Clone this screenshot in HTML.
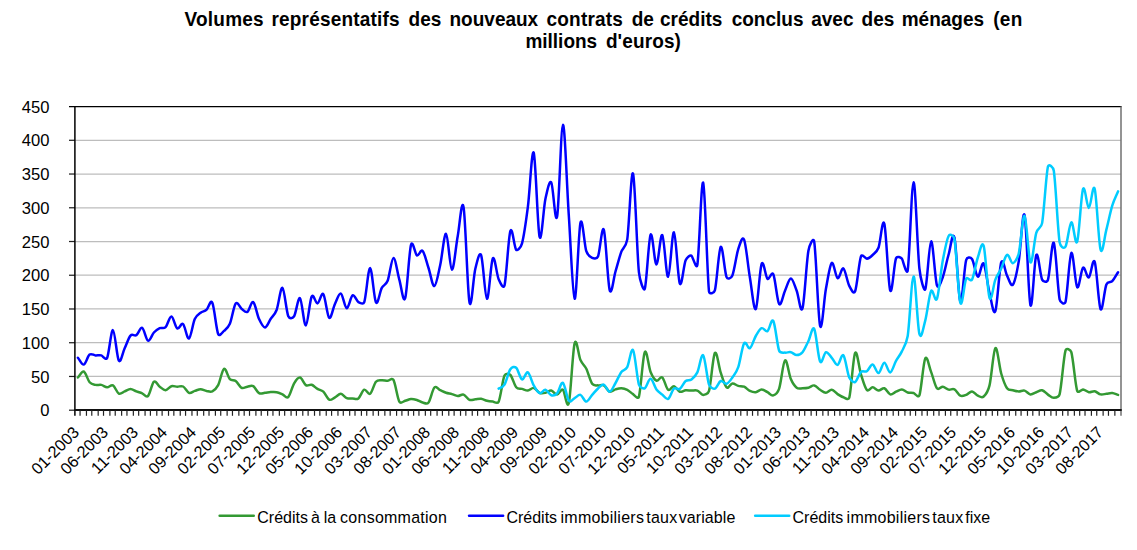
<!DOCTYPE html>
<html><head><meta charset="utf-8"><title>chart</title><style>
html,body{margin:0;padding:0;background:#fff}
body{width:1137px;height:550px;position:relative;overflow:hidden;font-family:"Liberation Sans",sans-serif;color:#000}
.t{position:absolute;white-space:nowrap}
.title{font-weight:bold;font-size:19px;line-height:23px;transform-origin:0 18.1px;transform:scaleY(1.06)}
.yl{font-size:16.6px;line-height:16px;text-align:right;width:40px}
.xl{font-size:16.3px;line-height:16px;transform-origin:100% 50%;transform:rotate(-45deg);text-align:right;width:80px}
.lg{font-size:16px;line-height:16px;transform-origin:0 13.5px;transform:scaleY(1.045)}

</style></head><body>
<svg width="1137" height="550" viewBox="0 0 1137 550" style="position:absolute;left:0;top:0">
<line x1="75.00" y1="376.46" x2="1121.00" y2="376.46" stroke="#bdbdbd" stroke-width="1.25"/>
<line x1="75.00" y1="342.72" x2="1121.00" y2="342.72" stroke="#bdbdbd" stroke-width="1.25"/>
<line x1="75.00" y1="308.98" x2="1121.00" y2="308.98" stroke="#bdbdbd" stroke-width="1.25"/>
<line x1="75.00" y1="275.24" x2="1121.00" y2="275.24" stroke="#bdbdbd" stroke-width="1.25"/>
<line x1="75.00" y1="241.51" x2="1121.00" y2="241.51" stroke="#bdbdbd" stroke-width="1.25"/>
<line x1="75.00" y1="207.77" x2="1121.00" y2="207.77" stroke="#bdbdbd" stroke-width="1.25"/>
<line x1="75.00" y1="174.03" x2="1121.00" y2="174.03" stroke="#bdbdbd" stroke-width="1.25"/>
<line x1="75.00" y1="140.29" x2="1121.00" y2="140.29" stroke="#bdbdbd" stroke-width="1.25"/>
<line x1="69.00" y1="106.55" x2="1121.60" y2="106.55" stroke="#000" stroke-width="1.25"/>
<line x1="1121.00" y1="106.55" x2="1121.00" y2="415.80" stroke="#707070" stroke-width="1.5"/>
<line x1="69.00" y1="410.20" x2="75.00" y2="410.20" stroke="#222" stroke-width="1.25"/>
<line x1="69.00" y1="376.46" x2="75.00" y2="376.46" stroke="#222" stroke-width="1.25"/>
<line x1="69.00" y1="342.72" x2="75.00" y2="342.72" stroke="#222" stroke-width="1.25"/>
<line x1="69.00" y1="308.98" x2="75.00" y2="308.98" stroke="#222" stroke-width="1.25"/>
<line x1="69.00" y1="275.24" x2="75.00" y2="275.24" stroke="#222" stroke-width="1.25"/>
<line x1="69.00" y1="241.51" x2="75.00" y2="241.51" stroke="#222" stroke-width="1.25"/>
<line x1="69.00" y1="207.77" x2="75.00" y2="207.77" stroke="#222" stroke-width="1.25"/>
<line x1="69.00" y1="174.03" x2="75.00" y2="174.03" stroke="#222" stroke-width="1.25"/>
<line x1="69.00" y1="140.29" x2="75.00" y2="140.29" stroke="#222" stroke-width="1.25"/>
<line x1="74.90" y1="106.55" x2="74.90" y2="415.80" stroke="#000" stroke-width="1.5"/>
<line x1="74.20" y1="409.90" x2="1121.70" y2="409.90" stroke="#111" stroke-width="2"/>
<line x1="80.06" y1="410.20" x2="80.06" y2="415.80" stroke="#222" stroke-width="1.2"/>
<line x1="86.45" y1="410.20" x2="86.45" y2="415.80" stroke="#222" stroke-width="1.2"/>
<line x1="91.78" y1="410.20" x2="91.78" y2="415.80" stroke="#222" stroke-width="1.2"/>
<line x1="98.18" y1="410.20" x2="98.18" y2="415.80" stroke="#222" stroke-width="1.2"/>
<line x1="103.51" y1="410.20" x2="103.51" y2="415.80" stroke="#222" stroke-width="1.2"/>
<line x1="109.90" y1="410.20" x2="109.90" y2="415.80" stroke="#222" stroke-width="1.2"/>
<line x1="115.23" y1="410.20" x2="115.23" y2="415.80" stroke="#222" stroke-width="1.2"/>
<line x1="121.62" y1="410.20" x2="121.62" y2="415.80" stroke="#222" stroke-width="1.2"/>
<line x1="126.95" y1="410.20" x2="126.95" y2="415.80" stroke="#222" stroke-width="1.2"/>
<line x1="133.35" y1="410.20" x2="133.35" y2="415.80" stroke="#222" stroke-width="1.2"/>
<line x1="138.67" y1="410.20" x2="138.67" y2="415.80" stroke="#222" stroke-width="1.2"/>
<line x1="145.07" y1="410.20" x2="145.07" y2="415.80" stroke="#222" stroke-width="1.2"/>
<line x1="150.40" y1="410.20" x2="150.40" y2="415.80" stroke="#222" stroke-width="1.2"/>
<line x1="156.79" y1="410.20" x2="156.79" y2="415.80" stroke="#222" stroke-width="1.2"/>
<line x1="162.12" y1="410.20" x2="162.12" y2="415.80" stroke="#222" stroke-width="1.2"/>
<line x1="168.51" y1="410.20" x2="168.51" y2="415.80" stroke="#222" stroke-width="1.2"/>
<line x1="173.84" y1="410.20" x2="173.84" y2="415.80" stroke="#222" stroke-width="1.2"/>
<line x1="180.24" y1="410.20" x2="180.24" y2="415.80" stroke="#222" stroke-width="1.2"/>
<line x1="185.56" y1="410.20" x2="185.56" y2="415.80" stroke="#222" stroke-width="1.2"/>
<line x1="191.96" y1="410.20" x2="191.96" y2="415.80" stroke="#222" stroke-width="1.2"/>
<line x1="197.29" y1="410.20" x2="197.29" y2="415.80" stroke="#222" stroke-width="1.2"/>
<line x1="203.68" y1="410.20" x2="203.68" y2="415.80" stroke="#222" stroke-width="1.2"/>
<line x1="209.01" y1="410.20" x2="209.01" y2="415.80" stroke="#222" stroke-width="1.2"/>
<line x1="215.40" y1="410.20" x2="215.40" y2="415.80" stroke="#222" stroke-width="1.2"/>
<line x1="220.73" y1="410.20" x2="220.73" y2="415.80" stroke="#222" stroke-width="1.2"/>
<line x1="227.13" y1="410.20" x2="227.13" y2="415.80" stroke="#222" stroke-width="1.2"/>
<line x1="232.46" y1="410.20" x2="232.46" y2="415.80" stroke="#222" stroke-width="1.2"/>
<line x1="238.85" y1="410.20" x2="238.85" y2="415.80" stroke="#222" stroke-width="1.2"/>
<line x1="244.18" y1="410.20" x2="244.18" y2="415.80" stroke="#222" stroke-width="1.2"/>
<line x1="249.51" y1="410.20" x2="249.51" y2="415.80" stroke="#222" stroke-width="1.2"/>
<line x1="255.90" y1="410.20" x2="255.90" y2="415.80" stroke="#222" stroke-width="1.2"/>
<line x1="261.23" y1="410.20" x2="261.23" y2="415.80" stroke="#222" stroke-width="1.2"/>
<line x1="267.62" y1="410.20" x2="267.62" y2="415.80" stroke="#222" stroke-width="1.2"/>
<line x1="272.95" y1="410.20" x2="272.95" y2="415.80" stroke="#222" stroke-width="1.2"/>
<line x1="279.35" y1="410.20" x2="279.35" y2="415.80" stroke="#222" stroke-width="1.2"/>
<line x1="284.67" y1="410.20" x2="284.67" y2="415.80" stroke="#222" stroke-width="1.2"/>
<line x1="291.07" y1="410.20" x2="291.07" y2="415.80" stroke="#222" stroke-width="1.2"/>
<line x1="296.40" y1="410.20" x2="296.40" y2="415.80" stroke="#222" stroke-width="1.2"/>
<line x1="302.79" y1="410.20" x2="302.79" y2="415.80" stroke="#222" stroke-width="1.2"/>
<line x1="308.12" y1="410.20" x2="308.12" y2="415.80" stroke="#222" stroke-width="1.2"/>
<line x1="314.51" y1="410.20" x2="314.51" y2="415.80" stroke="#222" stroke-width="1.2"/>
<line x1="319.84" y1="410.20" x2="319.84" y2="415.80" stroke="#222" stroke-width="1.2"/>
<line x1="326.24" y1="410.20" x2="326.24" y2="415.80" stroke="#222" stroke-width="1.2"/>
<line x1="331.57" y1="410.20" x2="331.57" y2="415.80" stroke="#222" stroke-width="1.2"/>
<line x1="337.96" y1="410.20" x2="337.96" y2="415.80" stroke="#222" stroke-width="1.2"/>
<line x1="343.29" y1="410.20" x2="343.29" y2="415.80" stroke="#222" stroke-width="1.2"/>
<line x1="349.68" y1="410.20" x2="349.68" y2="415.80" stroke="#222" stroke-width="1.2"/>
<line x1="355.01" y1="410.20" x2="355.01" y2="415.80" stroke="#222" stroke-width="1.2"/>
<line x1="361.41" y1="410.20" x2="361.41" y2="415.80" stroke="#222" stroke-width="1.2"/>
<line x1="366.73" y1="410.20" x2="366.73" y2="415.80" stroke="#222" stroke-width="1.2"/>
<line x1="373.13" y1="410.20" x2="373.13" y2="415.80" stroke="#222" stroke-width="1.2"/>
<line x1="378.46" y1="410.20" x2="378.46" y2="415.80" stroke="#222" stroke-width="1.2"/>
<line x1="384.85" y1="410.20" x2="384.85" y2="415.80" stroke="#222" stroke-width="1.2"/>
<line x1="390.18" y1="410.20" x2="390.18" y2="415.80" stroke="#222" stroke-width="1.2"/>
<line x1="396.57" y1="410.20" x2="396.57" y2="415.80" stroke="#222" stroke-width="1.2"/>
<line x1="401.90" y1="410.20" x2="401.90" y2="415.80" stroke="#222" stroke-width="1.2"/>
<line x1="408.30" y1="410.20" x2="408.30" y2="415.80" stroke="#222" stroke-width="1.2"/>
<line x1="413.62" y1="410.20" x2="413.62" y2="415.80" stroke="#222" stroke-width="1.2"/>
<line x1="418.95" y1="410.20" x2="418.95" y2="415.80" stroke="#222" stroke-width="1.2"/>
<line x1="425.35" y1="410.20" x2="425.35" y2="415.80" stroke="#222" stroke-width="1.2"/>
<line x1="430.68" y1="410.20" x2="430.68" y2="415.80" stroke="#222" stroke-width="1.2"/>
<line x1="437.07" y1="410.20" x2="437.07" y2="415.80" stroke="#222" stroke-width="1.2"/>
<line x1="442.40" y1="410.20" x2="442.40" y2="415.80" stroke="#222" stroke-width="1.2"/>
<line x1="448.79" y1="410.20" x2="448.79" y2="415.80" stroke="#222" stroke-width="1.2"/>
<line x1="454.12" y1="410.20" x2="454.12" y2="415.80" stroke="#222" stroke-width="1.2"/>
<line x1="460.52" y1="410.20" x2="460.52" y2="415.80" stroke="#222" stroke-width="1.2"/>
<line x1="465.84" y1="410.20" x2="465.84" y2="415.80" stroke="#222" stroke-width="1.2"/>
<line x1="472.24" y1="410.20" x2="472.24" y2="415.80" stroke="#222" stroke-width="1.2"/>
<line x1="477.57" y1="410.20" x2="477.57" y2="415.80" stroke="#222" stroke-width="1.2"/>
<line x1="483.96" y1="410.20" x2="483.96" y2="415.80" stroke="#222" stroke-width="1.2"/>
<line x1="489.29" y1="410.20" x2="489.29" y2="415.80" stroke="#222" stroke-width="1.2"/>
<line x1="495.68" y1="410.20" x2="495.68" y2="415.80" stroke="#222" stroke-width="1.2"/>
<line x1="501.01" y1="410.20" x2="501.01" y2="415.80" stroke="#222" stroke-width="1.2"/>
<line x1="507.41" y1="410.20" x2="507.41" y2="415.80" stroke="#222" stroke-width="1.2"/>
<line x1="512.73" y1="410.20" x2="512.73" y2="415.80" stroke="#222" stroke-width="1.2"/>
<line x1="519.13" y1="410.20" x2="519.13" y2="415.80" stroke="#222" stroke-width="1.2"/>
<line x1="524.46" y1="410.20" x2="524.46" y2="415.80" stroke="#222" stroke-width="1.2"/>
<line x1="530.85" y1="410.20" x2="530.85" y2="415.80" stroke="#222" stroke-width="1.2"/>
<line x1="536.18" y1="410.20" x2="536.18" y2="415.80" stroke="#222" stroke-width="1.2"/>
<line x1="542.57" y1="410.20" x2="542.57" y2="415.80" stroke="#222" stroke-width="1.2"/>
<line x1="547.90" y1="410.20" x2="547.90" y2="415.80" stroke="#222" stroke-width="1.2"/>
<line x1="554.30" y1="410.20" x2="554.30" y2="415.80" stroke="#222" stroke-width="1.2"/>
<line x1="559.63" y1="410.20" x2="559.63" y2="415.80" stroke="#222" stroke-width="1.2"/>
<line x1="566.02" y1="410.20" x2="566.02" y2="415.80" stroke="#222" stroke-width="1.2"/>
<line x1="571.35" y1="410.20" x2="571.35" y2="415.80" stroke="#222" stroke-width="1.2"/>
<line x1="577.74" y1="410.20" x2="577.74" y2="415.80" stroke="#222" stroke-width="1.2"/>
<line x1="583.07" y1="410.20" x2="583.07" y2="415.80" stroke="#222" stroke-width="1.2"/>
<line x1="588.40" y1="410.20" x2="588.40" y2="415.80" stroke="#222" stroke-width="1.2"/>
<line x1="594.79" y1="410.20" x2="594.79" y2="415.80" stroke="#222" stroke-width="1.2"/>
<line x1="600.12" y1="410.20" x2="600.12" y2="415.80" stroke="#222" stroke-width="1.2"/>
<line x1="606.52" y1="410.20" x2="606.52" y2="415.80" stroke="#222" stroke-width="1.2"/>
<line x1="611.84" y1="410.20" x2="611.84" y2="415.80" stroke="#222" stroke-width="1.2"/>
<line x1="618.24" y1="410.20" x2="618.24" y2="415.80" stroke="#222" stroke-width="1.2"/>
<line x1="623.57" y1="410.20" x2="623.57" y2="415.80" stroke="#222" stroke-width="1.2"/>
<line x1="629.96" y1="410.20" x2="629.96" y2="415.80" stroke="#222" stroke-width="1.2"/>
<line x1="635.29" y1="410.20" x2="635.29" y2="415.80" stroke="#222" stroke-width="1.2"/>
<line x1="641.68" y1="410.20" x2="641.68" y2="415.80" stroke="#222" stroke-width="1.2"/>
<line x1="647.01" y1="410.20" x2="647.01" y2="415.80" stroke="#222" stroke-width="1.2"/>
<line x1="653.41" y1="410.20" x2="653.41" y2="415.80" stroke="#222" stroke-width="1.2"/>
<line x1="658.74" y1="410.20" x2="658.74" y2="415.80" stroke="#222" stroke-width="1.2"/>
<line x1="665.13" y1="410.20" x2="665.13" y2="415.80" stroke="#222" stroke-width="1.2"/>
<line x1="670.46" y1="410.20" x2="670.46" y2="415.80" stroke="#222" stroke-width="1.2"/>
<line x1="676.85" y1="410.20" x2="676.85" y2="415.80" stroke="#222" stroke-width="1.2"/>
<line x1="682.18" y1="410.20" x2="682.18" y2="415.80" stroke="#222" stroke-width="1.2"/>
<line x1="688.58" y1="410.20" x2="688.58" y2="415.80" stroke="#222" stroke-width="1.2"/>
<line x1="693.90" y1="410.20" x2="693.90" y2="415.80" stroke="#222" stroke-width="1.2"/>
<line x1="700.30" y1="410.20" x2="700.30" y2="415.80" stroke="#222" stroke-width="1.2"/>
<line x1="705.63" y1="410.20" x2="705.63" y2="415.80" stroke="#222" stroke-width="1.2"/>
<line x1="712.02" y1="410.20" x2="712.02" y2="415.80" stroke="#222" stroke-width="1.2"/>
<line x1="717.35" y1="410.20" x2="717.35" y2="415.80" stroke="#222" stroke-width="1.2"/>
<line x1="723.74" y1="410.20" x2="723.74" y2="415.80" stroke="#222" stroke-width="1.2"/>
<line x1="729.07" y1="410.20" x2="729.07" y2="415.80" stroke="#222" stroke-width="1.2"/>
<line x1="735.47" y1="410.20" x2="735.47" y2="415.80" stroke="#222" stroke-width="1.2"/>
<line x1="740.79" y1="410.20" x2="740.79" y2="415.80" stroke="#222" stroke-width="1.2"/>
<line x1="747.19" y1="410.20" x2="747.19" y2="415.80" stroke="#222" stroke-width="1.2"/>
<line x1="752.52" y1="410.20" x2="752.52" y2="415.80" stroke="#222" stroke-width="1.2"/>
<line x1="757.85" y1="410.20" x2="757.85" y2="415.80" stroke="#222" stroke-width="1.2"/>
<line x1="764.24" y1="410.20" x2="764.24" y2="415.80" stroke="#222" stroke-width="1.2"/>
<line x1="769.57" y1="410.20" x2="769.57" y2="415.80" stroke="#222" stroke-width="1.2"/>
<line x1="775.96" y1="410.20" x2="775.96" y2="415.80" stroke="#222" stroke-width="1.2"/>
<line x1="781.29" y1="410.20" x2="781.29" y2="415.80" stroke="#222" stroke-width="1.2"/>
<line x1="787.69" y1="410.20" x2="787.69" y2="415.80" stroke="#222" stroke-width="1.2"/>
<line x1="793.01" y1="410.20" x2="793.01" y2="415.80" stroke="#222" stroke-width="1.2"/>
<line x1="799.41" y1="410.20" x2="799.41" y2="415.80" stroke="#222" stroke-width="1.2"/>
<line x1="804.74" y1="410.20" x2="804.74" y2="415.80" stroke="#222" stroke-width="1.2"/>
<line x1="811.13" y1="410.20" x2="811.13" y2="415.80" stroke="#222" stroke-width="1.2"/>
<line x1="816.46" y1="410.20" x2="816.46" y2="415.80" stroke="#222" stroke-width="1.2"/>
<line x1="822.85" y1="410.20" x2="822.85" y2="415.80" stroke="#222" stroke-width="1.2"/>
<line x1="828.18" y1="410.20" x2="828.18" y2="415.80" stroke="#222" stroke-width="1.2"/>
<line x1="834.58" y1="410.20" x2="834.58" y2="415.80" stroke="#222" stroke-width="1.2"/>
<line x1="839.90" y1="410.20" x2="839.90" y2="415.80" stroke="#222" stroke-width="1.2"/>
<line x1="846.30" y1="410.20" x2="846.30" y2="415.80" stroke="#222" stroke-width="1.2"/>
<line x1="851.63" y1="410.20" x2="851.63" y2="415.80" stroke="#222" stroke-width="1.2"/>
<line x1="858.02" y1="410.20" x2="858.02" y2="415.80" stroke="#222" stroke-width="1.2"/>
<line x1="863.35" y1="410.20" x2="863.35" y2="415.80" stroke="#222" stroke-width="1.2"/>
<line x1="869.74" y1="410.20" x2="869.74" y2="415.80" stroke="#222" stroke-width="1.2"/>
<line x1="875.07" y1="410.20" x2="875.07" y2="415.80" stroke="#222" stroke-width="1.2"/>
<line x1="881.47" y1="410.20" x2="881.47" y2="415.80" stroke="#222" stroke-width="1.2"/>
<line x1="886.80" y1="410.20" x2="886.80" y2="415.80" stroke="#222" stroke-width="1.2"/>
<line x1="893.19" y1="410.20" x2="893.19" y2="415.80" stroke="#222" stroke-width="1.2"/>
<line x1="898.52" y1="410.20" x2="898.52" y2="415.80" stroke="#222" stroke-width="1.2"/>
<line x1="904.91" y1="410.20" x2="904.91" y2="415.80" stroke="#222" stroke-width="1.2"/>
<line x1="910.24" y1="410.20" x2="910.24" y2="415.80" stroke="#222" stroke-width="1.2"/>
<line x1="915.57" y1="410.20" x2="915.57" y2="415.80" stroke="#222" stroke-width="1.2"/>
<line x1="921.96" y1="410.20" x2="921.96" y2="415.80" stroke="#222" stroke-width="1.2"/>
<line x1="927.29" y1="410.20" x2="927.29" y2="415.80" stroke="#222" stroke-width="1.2"/>
<line x1="933.69" y1="410.20" x2="933.69" y2="415.80" stroke="#222" stroke-width="1.2"/>
<line x1="939.01" y1="410.20" x2="939.01" y2="415.80" stroke="#222" stroke-width="1.2"/>
<line x1="945.41" y1="410.20" x2="945.41" y2="415.80" stroke="#222" stroke-width="1.2"/>
<line x1="950.74" y1="410.20" x2="950.74" y2="415.80" stroke="#222" stroke-width="1.2"/>
<line x1="957.13" y1="410.20" x2="957.13" y2="415.80" stroke="#222" stroke-width="1.2"/>
<line x1="962.46" y1="410.20" x2="962.46" y2="415.80" stroke="#222" stroke-width="1.2"/>
<line x1="968.85" y1="410.20" x2="968.85" y2="415.80" stroke="#222" stroke-width="1.2"/>
<line x1="974.18" y1="410.20" x2="974.18" y2="415.80" stroke="#222" stroke-width="1.2"/>
<line x1="980.58" y1="410.20" x2="980.58" y2="415.80" stroke="#222" stroke-width="1.2"/>
<line x1="985.91" y1="410.20" x2="985.91" y2="415.80" stroke="#222" stroke-width="1.2"/>
<line x1="992.30" y1="410.20" x2="992.30" y2="415.80" stroke="#222" stroke-width="1.2"/>
<line x1="997.63" y1="410.20" x2="997.63" y2="415.80" stroke="#222" stroke-width="1.2"/>
<line x1="1004.02" y1="410.20" x2="1004.02" y2="415.80" stroke="#222" stroke-width="1.2"/>
<line x1="1009.35" y1="410.20" x2="1009.35" y2="415.80" stroke="#222" stroke-width="1.2"/>
<line x1="1015.74" y1="410.20" x2="1015.74" y2="415.80" stroke="#222" stroke-width="1.2"/>
<line x1="1021.07" y1="410.20" x2="1021.07" y2="415.80" stroke="#222" stroke-width="1.2"/>
<line x1="1027.47" y1="410.20" x2="1027.47" y2="415.80" stroke="#222" stroke-width="1.2"/>
<line x1="1032.80" y1="410.20" x2="1032.80" y2="415.80" stroke="#222" stroke-width="1.2"/>
<line x1="1039.19" y1="410.20" x2="1039.19" y2="415.80" stroke="#222" stroke-width="1.2"/>
<line x1="1044.52" y1="410.20" x2="1044.52" y2="415.80" stroke="#222" stroke-width="1.2"/>
<line x1="1050.91" y1="410.20" x2="1050.91" y2="415.80" stroke="#222" stroke-width="1.2"/>
<line x1="1056.24" y1="410.20" x2="1056.24" y2="415.80" stroke="#222" stroke-width="1.2"/>
<line x1="1062.64" y1="410.20" x2="1062.64" y2="415.80" stroke="#222" stroke-width="1.2"/>
<line x1="1067.96" y1="410.20" x2="1067.96" y2="415.80" stroke="#222" stroke-width="1.2"/>
<line x1="1074.36" y1="410.20" x2="1074.36" y2="415.80" stroke="#222" stroke-width="1.2"/>
<line x1="1079.69" y1="410.20" x2="1079.69" y2="415.80" stroke="#222" stroke-width="1.2"/>
<line x1="1085.02" y1="410.20" x2="1085.02" y2="415.80" stroke="#222" stroke-width="1.2"/>
<line x1="1091.41" y1="410.20" x2="1091.41" y2="415.80" stroke="#222" stroke-width="1.2"/>
<line x1="1096.74" y1="410.20" x2="1096.74" y2="415.80" stroke="#222" stroke-width="1.2"/>
<line x1="1103.13" y1="410.20" x2="1103.13" y2="415.80" stroke="#222" stroke-width="1.2"/>
<line x1="1108.46" y1="410.20" x2="1108.46" y2="415.80" stroke="#222" stroke-width="1.2"/>
<line x1="1114.86" y1="410.20" x2="1114.86" y2="415.80" stroke="#222" stroke-width="1.2"/>
<path d="M77.92 377.50 C79.87 375.50 81.81 370.72 83.76 371.50 C85.71 372.28 87.66 379.97 89.61 382.20 C91.56 384.43 93.50 384.45 95.45 384.90 C97.40 385.35 99.34 384.50 101.29 384.90 C103.24 385.30 105.19 387.22 107.14 387.30 C109.09 387.38 111.03 384.35 112.98 385.40 C114.93 386.45 116.88 392.60 118.83 393.60 C120.78 394.60 122.72 392.17 124.67 391.40 C126.62 390.63 128.56 389.00 130.51 389.00 C132.46 389.00 134.41 390.68 136.36 391.40 C138.31 392.12 140.25 392.53 142.20 393.30 C144.15 394.07 146.09 397.92 148.04 396.00 C149.99 394.08 151.94 383.35 153.89 381.80 C155.84 380.25 157.78 385.30 159.73 386.70 C161.68 388.10 163.62 390.28 165.57 390.20 C167.52 390.12 169.47 386.78 171.42 386.20 C173.37 385.62 175.31 386.65 177.26 386.70 C179.21 386.75 181.15 385.48 183.10 386.50 C185.05 387.52 187.00 392.07 188.95 392.80 C190.90 393.53 192.84 391.50 194.79 390.90 C196.74 390.30 198.69 389.20 200.64 389.20 C202.59 389.20 204.53 390.55 206.48 390.90 C208.43 391.25 210.37 392.27 212.32 391.30 C214.27 390.33 216.22 388.85 218.17 385.10 C220.12 381.35 222.06 369.80 224.01 368.80 C225.96 367.80 227.90 377.07 229.85 379.10 C231.80 381.13 233.75 379.55 235.70 381.00 C237.65 382.45 239.59 386.85 241.54 387.80 C243.49 388.75 245.43 386.97 247.38 386.70 C249.33 386.43 251.28 385.12 253.23 386.20 C255.18 387.28 257.12 392.10 259.07 393.20 C261.02 394.30 262.97 392.98 264.92 392.80 C266.87 392.62 268.81 392.20 270.76 392.10 C272.71 392.00 274.65 391.83 276.60 392.20 C278.55 392.57 280.50 393.50 282.45 394.30 C284.40 395.10 286.34 398.83 288.29 397.00 C290.24 395.17 292.18 386.53 294.13 383.30 C296.08 380.07 298.03 377.30 299.98 377.60 C301.93 377.90 303.87 383.90 305.82 385.10 C307.77 386.30 309.71 384.17 311.66 384.80 C313.61 385.43 315.56 387.75 317.51 388.90 C319.46 390.05 321.40 389.90 323.35 391.70 C325.30 393.50 327.24 398.77 329.19 399.70 C331.14 400.63 333.09 398.28 335.04 397.30 C336.99 396.32 338.93 393.67 340.88 393.80 C342.83 393.93 344.78 397.32 346.73 398.10 C348.68 398.88 350.62 398.45 352.57 398.50 C354.52 398.55 356.46 399.87 358.41 398.40 C360.36 396.93 362.31 390.47 364.26 389.70 C366.21 388.93 368.15 395.12 370.10 393.80 C372.05 392.48 373.99 384.07 375.94 381.80 C377.89 379.53 379.84 380.37 381.79 380.20 C383.74 380.03 385.68 380.85 387.63 380.80 C389.08 380.76 392.02 377.32 393.47 379.90 C395.42 383.37 397.37 398.12 399.32 401.60 C400.76 404.17 403.72 401.12 405.16 400.80 C407.11 400.37 409.06 399.13 411.01 399.00 C412.96 398.87 414.90 399.42 416.85 400.00 C418.80 400.58 420.74 402.08 422.69 402.50 C424.49 402.88 426.74 404.81 428.54 402.50 C430.49 400.00 432.43 389.55 434.38 387.50 C436.33 385.45 438.27 389.33 440.22 390.20 C442.17 391.07 444.12 392.05 446.07 392.70 C448.02 393.35 449.96 393.55 451.91 394.10 C453.86 394.65 455.80 395.92 457.75 396.00 C459.70 396.08 461.65 393.97 463.60 394.60 C465.55 395.23 467.49 399.02 469.44 399.80 C471.39 400.58 473.33 399.48 475.28 399.30 C477.23 399.12 479.18 398.45 481.13 398.70 C483.08 398.95 485.02 400.32 486.97 400.80 C488.92 401.28 490.87 401.45 492.82 401.60 C494.02 401.69 497.46 404.36 498.66 401.70 C500.61 397.37 502.55 380.08 504.50 375.60 C505.68 372.89 509.17 373.62 510.35 374.80 C512.30 376.75 514.24 384.95 516.19 387.30 C518.12 389.63 520.10 388.37 522.03 388.90 C523.98 389.43 525.93 390.67 527.88 390.50 C529.83 390.33 531.77 387.52 533.72 387.90 C535.67 388.28 537.61 391.98 539.56 392.80 C541.51 393.62 543.46 393.17 545.41 392.80 C547.36 392.43 549.30 390.30 551.25 390.60 C553.20 390.90 555.15 394.73 557.10 394.60 C559.05 394.47 560.99 388.38 562.94 389.80 C564.71 391.09 567.01 410.14 568.78 403.10 C570.73 395.35 572.68 350.47 574.63 343.30 C576.58 336.13 578.52 355.85 580.47 360.10 C582.42 364.35 584.36 364.85 586.31 368.80 C588.26 372.75 590.21 381.03 592.16 383.80 C593.90 386.28 596.26 385.16 598.00 385.40 C599.95 385.67 601.89 384.35 603.84 385.40 C605.79 386.45 607.74 391.03 609.69 391.70 C611.64 392.37 613.58 389.97 615.53 389.40 C617.48 388.83 619.42 388.23 621.37 388.30 C623.32 388.37 625.27 388.83 627.22 389.80 C629.17 390.77 631.11 392.93 633.06 394.10 C633.93 394.62 638.04 399.90 638.91 396.80 C640.86 389.82 642.80 356.33 644.75 352.20 C646.70 348.07 648.64 367.25 650.59 372.00 C652.54 376.75 654.49 379.78 656.44 380.70 C658.39 381.62 660.33 375.98 662.28 377.50 C664.23 379.02 666.17 388.35 668.12 389.80 C670.07 391.25 672.02 385.88 673.97 386.20 C675.92 386.52 677.86 391.03 679.81 391.70 C681.76 392.37 683.70 390.38 685.65 390.20 C687.60 390.02 689.55 390.53 691.50 390.60 C693.45 390.67 695.39 389.88 697.34 390.60 C699.29 391.32 701.24 394.85 703.19 394.90 C704.14 394.92 708.08 394.31 709.03 390.90 C710.98 383.92 712.92 356.03 714.87 353.00 C716.82 349.97 718.77 366.98 720.72 372.70 C722.67 378.42 724.61 385.50 726.56 387.30 C728.51 389.10 730.45 383.73 732.40 383.50 C734.35 383.27 736.30 385.37 738.25 385.90 C740.20 386.43 742.14 385.87 744.09 386.70 C746.04 387.53 747.98 389.98 749.93 390.90 C751.88 391.82 753.83 392.43 755.78 392.20 C757.73 391.97 759.67 389.50 761.62 389.50 C763.57 389.50 765.51 391.22 767.46 392.20 C769.41 393.18 771.36 396.00 773.31 395.40 C774.73 394.96 777.73 392.85 779.15 388.60 C781.10 382.77 783.05 361.98 785.00 360.40 C786.95 358.82 788.89 374.53 790.84 379.10 C792.79 383.67 794.73 386.27 796.68 387.80 C798.63 389.33 800.58 388.30 802.53 388.30 C804.48 388.30 806.42 388.28 808.37 387.80 C810.32 387.32 812.26 385.07 814.21 385.40 C816.16 385.73 818.11 388.57 820.06 389.80 C822.01 391.03 823.95 392.82 825.90 392.80 C827.85 392.78 829.79 389.48 831.74 389.70 C833.69 389.92 835.64 392.83 837.59 394.10 C839.54 395.37 841.48 396.68 843.43 397.30 C844.18 397.54 848.53 400.64 849.28 397.80 C851.23 390.42 853.17 356.92 855.12 353.00 C857.07 349.08 859.01 368.17 860.96 374.30 C862.91 380.43 864.86 387.63 866.81 389.80 C868.76 391.97 870.70 387.18 872.65 387.30 C874.60 387.42 876.54 390.33 878.49 390.50 C880.44 390.67 882.39 387.65 884.34 388.30 C886.29 388.95 888.23 393.83 890.18 394.40 C892.13 394.97 894.07 392.53 896.02 391.70 C897.97 390.87 899.92 389.27 901.87 389.40 C903.82 389.53 905.76 391.90 907.71 392.50 C909.66 393.10 911.60 392.52 913.55 393.00 C914.56 393.25 918.39 398.39 919.40 395.40 C921.35 389.65 923.29 362.42 925.24 358.50 C927.19 354.58 929.14 366.93 931.09 371.90 C933.04 376.87 934.98 385.83 936.93 388.30 C938.81 390.68 940.89 386.49 942.77 386.70 C944.72 386.92 946.67 389.15 948.62 389.60 C950.57 390.05 952.51 388.38 954.46 389.40 C956.41 390.42 958.35 394.78 960.30 395.70 C962.25 396.62 964.20 395.62 966.15 394.90 C968.10 394.18 970.04 391.27 971.99 391.40 C973.94 391.53 975.88 394.85 977.83 395.70 C979.78 396.55 981.73 398.22 983.68 396.50 C985.16 395.20 988.04 391.50 989.52 385.40 C991.47 377.35 993.42 350.18 995.37 348.20 C997.32 346.22 999.26 366.82 1001.21 373.50 C1003.16 380.18 1005.10 385.52 1007.05 388.30 C1008.81 390.82 1011.14 389.73 1012.90 390.20 C1014.85 390.72 1016.79 391.33 1018.74 391.40 C1020.69 391.47 1022.63 390.10 1024.58 390.60 C1026.53 391.10 1028.48 394.13 1030.43 394.40 C1032.38 394.67 1034.32 392.90 1036.27 392.20 C1038.22 391.50 1040.16 389.80 1042.11 390.20 C1044.06 390.60 1046.01 393.33 1047.96 394.60 C1049.91 395.87 1051.85 397.88 1053.80 397.80 C1054.63 397.76 1058.81 397.46 1059.64 394.10 C1061.59 386.23 1063.54 357.58 1065.49 350.60 C1066.30 347.68 1070.49 349.29 1071.33 352.20 C1073.28 358.92 1075.23 384.70 1077.18 390.90 C1078.08 393.78 1082.12 389.30 1083.02 389.40 C1084.97 389.62 1086.91 391.88 1088.86 392.20 C1090.81 392.52 1092.76 390.93 1094.71 391.30 C1096.66 391.67 1098.60 393.98 1100.55 394.40 C1102.50 394.82 1104.44 394.03 1106.39 393.80 C1108.34 393.57 1110.29 392.82 1112.24 393.00 C1114.19 393.18 1116.13 394.27 1118.08 394.90" fill="none" stroke="#339933" stroke-width="2.5" stroke-linejoin="round" stroke-linecap="round"/>
<path d="M77.92 357.80 C79.87 360.07 81.81 365.13 83.76 364.60 C85.71 364.07 87.66 356.13 89.61 354.60 C91.56 353.07 93.50 355.27 95.45 355.40 C97.40 355.53 99.34 354.98 101.29 355.40 C102.62 355.69 105.81 360.79 107.14 357.90 C109.09 353.68 111.03 329.65 112.98 330.10 C114.93 330.55 116.88 357.57 118.83 360.60 C120.78 363.63 122.72 352.47 124.67 348.30 C126.62 344.13 128.56 337.80 130.51 335.60 C132.46 333.40 134.41 336.38 136.36 335.10 C138.31 333.82 140.25 326.97 142.20 327.90 C144.15 328.83 146.09 339.93 148.04 340.70 C149.99 341.47 151.94 334.58 153.89 332.50 C155.84 330.42 157.78 329.08 159.73 328.20 C161.68 327.32 163.62 329.13 165.57 327.20 C167.52 325.27 169.47 316.38 171.42 316.60 C173.37 316.82 175.31 327.25 177.26 328.50 C179.21 329.75 181.15 322.43 183.10 324.10 C185.05 325.77 187.00 339.35 188.95 338.50 C190.90 337.65 192.84 323.30 194.79 319.00 C196.56 315.08 198.87 314.10 200.64 312.70 C202.59 311.17 204.53 311.45 206.48 309.80 C208.43 308.15 210.37 298.77 212.32 302.80 C214.27 306.83 216.22 329.32 218.17 334.00 C219.44 337.05 222.74 332.02 224.01 330.90 C225.83 329.30 228.03 327.96 229.85 323.70 C231.80 319.13 233.75 306.00 235.70 303.50 C237.65 301.00 239.59 307.30 241.54 308.70 C243.49 310.10 245.43 313.00 247.38 311.90 C249.33 310.80 251.28 300.90 253.23 302.10 C255.18 303.30 257.12 314.87 259.07 319.10 C261.02 323.33 262.97 327.55 264.92 327.50 C266.87 327.45 268.81 321.72 270.76 318.80 C272.63 316.00 274.73 314.94 276.60 310.00 C278.55 304.85 280.50 286.87 282.45 287.90 C284.40 288.93 286.34 311.48 288.29 316.20 C289.40 318.90 292.54 318.65 294.13 316.20 C296.08 313.20 298.03 296.67 299.98 298.20 C301.93 299.73 303.87 325.67 305.82 325.40 C307.77 325.13 309.71 300.27 311.66 296.60 C313.61 292.93 315.56 303.80 317.51 303.40 C319.46 303.00 321.40 291.80 323.35 294.20 C325.30 296.60 327.24 316.22 329.19 317.80 C331.14 319.38 333.09 307.73 335.04 303.70 C336.99 299.67 338.93 292.83 340.88 293.60 C342.83 294.37 344.78 308.02 346.73 308.30 C348.68 308.58 350.62 296.33 352.57 295.30 C354.52 294.27 356.46 300.97 358.41 302.10 C359.36 302.65 363.31 304.87 364.26 302.10 C366.21 296.43 368.15 268.05 370.10 268.10 C372.05 268.15 373.99 299.10 375.94 302.40 C377.89 305.70 379.84 291.50 381.79 287.90 C383.46 284.82 385.96 285.08 387.63 280.80 C389.58 275.80 391.52 258.10 393.47 257.90 C395.42 257.70 397.37 272.88 399.32 279.60 C401.27 286.32 403.21 304.00 405.16 298.20 C407.11 292.40 409.06 251.93 411.01 244.80 C412.60 238.96 415.26 254.55 416.85 255.40 C418.80 256.43 420.74 248.90 422.69 251.00 C424.64 253.10 426.59 262.15 428.54 268.00 C430.49 273.85 432.43 286.60 434.38 286.10 C436.33 285.60 438.27 273.72 440.22 265.00 C442.17 256.28 444.12 233.02 446.07 233.80 C448.02 234.58 449.96 269.33 451.91 269.70 C453.86 270.07 455.80 246.38 457.75 236.00 C459.70 225.62 461.65 196.38 463.60 207.40 C465.55 218.42 467.49 291.83 469.44 302.10 C471.39 312.37 473.33 276.80 475.28 269.00 C477.09 261.77 479.32 250.70 481.13 255.30 C483.08 260.27 485.02 298.28 486.97 298.80 C488.92 299.32 490.87 261.65 492.82 258.40 C494.77 255.15 496.71 274.78 498.66 279.30 C500.35 283.21 503.50 289.64 504.50 285.50 C506.45 277.47 508.40 237.05 510.35 231.10 C512.30 225.15 514.24 247.77 516.19 249.80 C517.34 251.00 520.88 247.52 522.03 243.30 C523.98 236.15 525.93 221.99 527.88 206.90 C529.83 191.81 531.77 147.78 533.72 152.75 C535.67 157.72 537.61 228.99 539.56 236.70 C541.51 244.41 543.46 208.05 545.41 199.00 C547.26 190.40 549.40 179.61 551.25 182.40 C553.20 185.33 555.15 226.22 557.10 216.60 C559.05 206.98 560.99 124.97 562.94 124.70 C564.89 124.43 566.83 185.98 568.78 215.00 C570.73 244.02 572.68 297.51 574.63 298.80 C576.58 300.09 578.52 230.68 580.47 222.75 C582.42 214.82 584.36 245.36 586.31 251.20 C587.71 255.38 590.76 257.17 592.16 257.80 C593.32 258.32 596.84 259.26 598.00 256.50 C599.95 251.85 601.89 224.30 603.84 229.90 C605.79 235.50 607.74 283.18 609.69 290.10 C611.64 297.02 613.58 277.82 615.53 271.40 C617.48 264.98 619.42 256.90 621.37 251.60 C622.36 248.91 626.23 246.20 627.22 239.60 C629.17 226.62 631.11 168.27 633.06 173.70 C635.01 179.13 636.96 252.98 638.91 272.20 C639.81 281.05 643.85 291.88 644.75 289.00 C646.70 282.75 648.64 238.78 650.59 234.70 C652.54 230.62 654.49 264.45 656.44 264.50 C658.39 264.55 660.33 232.95 662.28 235.00 C664.23 237.05 666.17 277.25 668.12 276.80 C670.07 276.35 672.02 231.18 673.97 232.30 C675.92 233.42 677.86 278.83 679.81 283.50 C681.76 288.17 683.70 264.95 685.65 260.30 C687.10 256.84 690.05 255.02 691.50 255.60 C692.38 255.95 696.46 270.46 697.34 265.00 C699.29 252.85 701.24 178.25 703.19 182.70 C705.14 187.15 707.08 273.75 709.03 291.70 C709.35 294.67 714.11 293.29 714.87 290.40 C716.82 282.93 718.77 249.12 720.72 246.90 C722.67 244.68 724.61 272.35 726.56 277.10 C727.71 279.91 731.22 278.20 732.40 275.40 C734.35 270.75 736.30 255.17 738.25 249.20 C739.99 243.86 742.35 235.35 744.09 239.60 C746.04 244.35 747.98 266.13 749.93 277.70 C751.88 289.27 753.83 311.28 755.78 309.00 C757.73 306.72 759.67 269.05 761.62 264.00 C763.57 258.95 765.51 276.98 767.46 278.70 C769.00 280.05 771.77 270.98 773.31 274.30 C775.26 278.52 777.20 301.27 779.15 304.00 C781.10 306.73 783.05 294.95 785.00 290.70 C786.95 286.45 788.89 278.50 790.84 278.50 C792.79 278.50 794.73 285.75 796.68 290.70 C798.63 295.65 800.58 314.82 802.53 308.20 C804.48 301.58 806.42 262.10 808.37 251.00 C809.33 245.55 813.35 236.13 814.21 241.60 C816.16 254.05 818.11 317.78 820.06 325.70 C822.01 333.62 823.95 299.55 825.90 289.10 C827.85 278.65 829.79 264.82 831.74 263.00 C833.69 261.18 835.64 277.28 837.59 278.20 C839.54 279.12 841.48 267.22 843.43 268.50 C845.38 269.78 847.33 282.10 849.28 285.90 C851.09 289.44 853.66 295.00 855.12 291.30 C857.07 286.37 859.01 261.73 860.96 256.30 C862.03 253.32 865.74 258.82 866.81 258.70 C868.76 258.48 870.70 256.82 872.65 255.00 C874.27 253.48 876.86 252.14 878.49 247.80 C880.44 242.60 882.39 216.70 884.34 223.80 C886.29 230.90 888.23 284.65 890.18 290.40 C892.13 296.15 894.07 263.58 896.02 258.30 C897.03 255.55 900.86 257.66 901.87 258.70 C902.85 259.71 906.73 276.72 907.71 270.30 C909.66 257.55 911.60 182.50 913.55 182.20 C915.50 181.90 917.45 250.65 919.40 268.50 C920.57 279.24 924.07 292.02 925.24 289.30 C927.19 284.78 929.14 242.07 931.09 241.40 C933.04 240.73 934.98 279.33 936.93 285.30 C938.48 290.05 941.00 281.87 942.77 277.20 C944.72 272.07 946.67 261.10 948.62 254.50 C950.57 247.90 952.51 229.78 954.46 237.60 C956.41 245.42 958.35 297.65 960.30 301.40 C962.25 305.15 964.20 267.17 966.15 260.10 C966.94 257.24 970.27 256.57 971.99 259.00 C973.94 261.75 975.88 275.85 977.83 276.60 C979.78 277.35 981.73 260.75 983.68 263.50 C985.63 266.25 987.57 285.17 989.52 293.10 C991.47 301.03 993.42 316.20 995.37 311.10 C997.32 306.00 999.26 268.40 1001.21 262.50 C1003.16 256.60 1005.10 272.02 1007.05 275.70 C1009.00 279.38 1010.95 286.98 1012.90 284.60 C1014.85 282.22 1016.79 272.98 1018.74 261.40 C1020.69 249.82 1022.63 207.82 1024.58 215.10 C1026.53 222.38 1028.48 298.43 1030.43 305.10 C1032.38 311.77 1034.32 259.35 1036.27 255.10 C1038.22 250.85 1040.16 275.48 1042.11 279.60 C1043.36 282.25 1047.07 282.59 1047.96 279.80 C1049.91 273.68 1051.85 239.63 1053.80 242.90 C1055.75 246.17 1057.69 289.55 1059.64 299.40 C1060.26 302.54 1064.71 305.10 1065.49 302.00 C1067.44 294.27 1069.38 255.47 1071.33 253.00 C1073.28 250.53 1075.23 284.73 1077.18 287.20 C1079.13 289.67 1081.07 269.43 1083.02 267.80 C1084.97 266.17 1086.91 278.38 1088.86 277.40 C1090.81 276.42 1092.76 256.62 1094.71 261.90 C1096.66 267.18 1098.60 305.35 1100.55 309.10 C1102.50 312.85 1104.44 289.05 1106.39 284.40 C1107.68 281.33 1110.95 282.54 1112.24 281.20 C1114.19 279.17 1116.13 275.20 1118.08 272.20" fill="none" stroke="#0000ff" stroke-width="2.5" stroke-linejoin="round" stroke-linecap="round"/>
<path d="M498.66 388.60 C499.58 387.97 502.67 387.63 504.50 384.60 C506.45 381.38 508.40 372.12 510.35 369.30 C512.07 366.81 514.47 366.21 516.19 367.70 C518.14 369.38 520.08 378.62 522.03 379.40 C523.98 380.18 525.93 371.40 527.88 372.40 C529.83 373.40 531.77 381.93 533.72 385.40 C535.67 388.87 537.61 392.47 539.56 393.20 C541.51 393.93 543.46 389.47 545.41 389.80 C547.36 390.13 549.30 394.62 551.25 395.20 C553.20 395.78 555.15 395.35 557.10 393.30 C559.05 391.25 560.99 381.68 562.94 382.90 C564.89 384.12 566.83 398.07 568.78 400.60 C570.72 403.12 572.69 399.05 574.63 398.10 C576.58 397.15 578.52 394.32 580.47 394.90 C582.42 395.48 584.36 401.60 586.31 401.60 C588.26 401.60 590.21 397.08 592.16 394.90 C594.11 392.72 596.05 390.22 598.00 388.50 C599.95 386.78 601.89 384.07 603.84 384.60 C605.79 385.13 607.74 391.97 609.69 391.70 C611.64 391.43 613.58 386.30 615.53 383.00 C617.48 379.70 619.42 374.53 621.37 371.90 C623.14 369.50 625.45 370.51 627.22 367.20 C629.17 363.57 631.11 347.20 633.06 350.10 C635.01 353.00 636.96 378.23 638.91 384.60 C639.92 387.91 643.74 388.80 644.75 388.30 C646.70 387.33 648.64 378.62 650.59 378.80 C652.54 378.98 654.49 386.77 656.44 389.40 C658.39 392.03 660.33 393.02 662.28 394.60 C664.23 396.18 666.17 399.90 668.12 398.90 C670.07 397.90 672.02 390.27 673.97 388.60 C675.92 386.93 677.86 390.17 679.81 388.90 C681.76 387.63 683.70 382.58 685.65 381.00 C687.60 379.42 689.55 380.83 691.50 379.40 C693.45 377.97 695.39 376.42 697.34 372.40 C699.29 368.38 701.24 353.27 703.19 355.30 C705.14 357.33 707.08 379.05 709.03 384.60 C710.20 387.94 713.70 388.96 714.87 388.60 C716.82 388.00 718.77 381.80 720.72 381.00 C722.67 380.20 724.61 384.38 726.56 383.80 C728.51 383.22 730.45 380.27 732.40 377.50 C734.32 374.78 736.33 372.80 738.25 367.20 C740.20 361.50 742.14 346.47 744.09 343.30 C746.04 340.13 747.98 349.42 749.93 348.20 C751.88 346.98 753.83 339.33 755.78 336.00 C757.73 332.67 759.67 329.02 761.62 328.20 C763.57 327.38 765.51 332.30 767.46 331.10 C769.41 329.90 771.36 317.73 773.31 321.00 C775.26 324.27 777.20 345.43 779.15 350.70 C780.22 353.58 783.93 352.46 785.00 352.60 C786.95 352.85 788.89 351.78 790.84 352.20 C792.79 352.62 794.73 355.10 796.68 355.10 C798.63 355.10 800.58 354.52 802.53 352.20 C804.48 349.88 806.42 345.07 808.37 341.20 C810.32 337.33 812.26 325.63 814.21 329.00 C816.16 332.37 818.11 357.53 820.06 361.40 C822.01 365.27 823.95 352.80 825.90 352.20 C827.85 351.60 829.79 355.68 831.74 357.80 C833.69 359.92 835.64 365.30 837.59 364.90 C839.54 364.50 841.48 353.28 843.43 355.40 C845.38 357.52 847.33 373.17 849.28 377.60 C850.75 380.95 853.65 382.70 855.12 382.00 C857.07 381.07 859.01 373.80 860.96 372.00 C862.91 370.20 864.86 372.43 866.81 371.20 C868.76 369.97 870.70 364.28 872.65 364.60 C874.60 364.92 876.54 373.40 878.49 373.10 C880.44 372.80 882.39 362.90 884.34 362.80 C886.29 362.70 888.23 372.82 890.18 372.50 C892.13 372.18 894.07 364.42 896.02 360.90 C897.97 357.38 899.92 355.55 901.87 351.40 C903.14 348.70 906.44 344.14 907.71 336.00 C909.66 323.50 911.60 276.73 913.55 276.40 C915.50 276.07 917.45 326.63 919.40 334.00 C921.27 341.07 923.32 327.65 925.24 320.60 C927.19 313.43 929.14 294.62 931.09 291.00 C932.85 287.73 935.17 303.49 936.93 298.90 C938.88 293.83 940.82 271.08 942.77 260.60 C944.72 250.12 946.67 239.57 948.62 236.00 C950.22 233.08 953.88 235.92 954.46 239.20 C956.41 250.30 958.35 296.00 960.30 302.60 C962.25 309.20 964.20 282.63 966.15 278.80 C967.49 276.17 970.57 282.18 971.99 279.60 C973.94 276.05 975.88 263.12 977.83 257.50 C979.64 252.28 981.87 239.66 983.68 245.90 C985.63 252.62 987.57 292.18 989.52 297.80 C991.47 303.42 993.42 284.48 995.37 279.60 C997.32 274.72 999.26 272.63 1001.21 268.50 C1003.16 264.37 1005.10 255.67 1007.05 254.80 C1009.00 253.93 1010.95 263.52 1012.90 263.30 C1014.27 263.15 1017.38 259.04 1018.74 253.50 C1020.69 245.60 1022.63 214.45 1024.58 215.90 C1026.53 217.35 1028.48 259.37 1030.43 262.20 C1032.38 265.03 1034.32 239.42 1036.27 232.90 C1037.90 227.43 1041.12 228.72 1042.11 223.10 C1044.06 212.03 1046.01 175.22 1047.96 166.50 C1048.75 162.96 1053.25 167.22 1053.80 170.80 C1055.75 183.45 1057.69 229.75 1059.64 242.40 C1060.19 245.99 1063.66 249.84 1065.49 246.70 C1067.44 243.35 1069.38 223.15 1071.33 222.30 C1073.28 221.45 1075.23 247.12 1077.18 241.60 C1079.13 236.08 1081.07 194.80 1083.02 189.20 C1084.97 183.60 1086.91 208.03 1088.86 208.00 C1090.81 207.97 1092.76 182.08 1094.71 189.00 C1096.66 195.92 1098.60 242.73 1100.55 249.50 C1102.50 256.27 1104.44 236.90 1106.39 229.60 C1108.34 222.30 1110.29 212.07 1112.24 205.70 C1114.19 199.33 1116.13 196.17 1118.08 191.40" fill="none" stroke="#00ccff" stroke-width="2.5" stroke-linejoin="round" stroke-linecap="round"/>
<line x1="219.7" y1="515.75" x2="253.7" y2="515.75" stroke="#339933" stroke-width="2.6" stroke-linecap="round"/>
<line x1="469.1" y1="515.75" x2="503.1" y2="515.75" stroke="#0000ff" stroke-width="2.6" stroke-linecap="round"/>
<line x1="755.2" y1="515.75" x2="789.2" y2="515.75" stroke="#00ccff" stroke-width="2.6" stroke-linecap="round"/>
</svg>
<div class="t title" style="left:184.5px;top:7.9px;letter-spacing:0.22px">Volumes</div>
<div class="t title" style="left:271.4px;top:7.9px;letter-spacing:0.20px">représentatifs</div>
<div class="t title" style="left:408.6px;top:7.9px;letter-spacing:0.00px">des</div>
<div class="t title" style="left:449.5px;top:7.9px;letter-spacing:0.00px">nouveaux</div>
<div class="t title" style="left:546.5px;top:7.9px;letter-spacing:0.20px">contrats</div>
<div class="t title" style="left:631.7px;top:7.9px;letter-spacing:0.00px">de</div>
<div class="t title" style="left:660.0px;top:7.9px;letter-spacing:0.00px">crédits</div>
<div class="t title" style="left:731.7px;top:7.9px;letter-spacing:0.00px">conclus</div>
<div class="t title" style="left:811.2px;top:7.9px;letter-spacing:0.00px">avec</div>
<div class="t title" style="left:861.6px;top:7.9px;letter-spacing:0.00px">des</div>
<div class="t title" style="left:901.7px;top:7.9px;letter-spacing:0.00px">ménages</div>
<div class="t title" style="left:993.2px;top:7.9px;letter-spacing:0.30px">(en</div>
<div class="t title" style="left:525.4px;top:30.2px;letter-spacing:0.00px">millions</div>
<div class="t title" style="left:605.9px;top:30.2px;letter-spacing:0.12px">d'euros)</div>
<div class="t yl" style="left:9.5px;top:403.2px">0</div>
<div class="t yl" style="left:9.5px;top:369.5px">50</div>
<div class="t yl" style="left:9.5px;top:335.7px">100</div>
<div class="t yl" style="left:9.5px;top:302.0px">150</div>
<div class="t yl" style="left:9.5px;top:268.2px">200</div>
<div class="t yl" style="left:9.5px;top:234.5px">250</div>
<div class="t yl" style="left:9.5px;top:200.8px">300</div>
<div class="t yl" style="left:9.5px;top:167.0px">350</div>
<div class="t yl" style="left:9.5px;top:133.3px">400</div>
<div class="t yl" style="left:9.5px;top:99.6px">450</div>
<div class="t xl" style="left:-3.9px;top:420.5px">01-2003</div>
<div class="t xl" style="left:25.4px;top:420.5px">06-2003</div>
<div class="t xl" style="left:54.6px;top:420.5px">11-2003</div>
<div class="t xl" style="left:83.8px;top:420.5px">04-2004</div>
<div class="t xl" style="left:113.1px;top:420.5px">09-2004</div>
<div class="t xl" style="left:142.3px;top:420.5px">02-2005</div>
<div class="t xl" style="left:171.6px;top:420.5px">07-2005</div>
<div class="t xl" style="left:200.8px;top:420.5px">12-2005</div>
<div class="t xl" style="left:230.0px;top:420.5px">05-2006</div>
<div class="t xl" style="left:259.3px;top:420.5px">10-2006</div>
<div class="t xl" style="left:288.5px;top:420.5px">03-2007</div>
<div class="t xl" style="left:317.8px;top:420.5px">08-2007</div>
<div class="t xl" style="left:347.0px;top:420.5px">01-2008</div>
<div class="t xl" style="left:376.3px;top:420.5px">06-2008</div>
<div class="t xl" style="left:405.5px;top:420.5px">11-2008</div>
<div class="t xl" style="left:434.7px;top:420.5px">04-2009</div>
<div class="t xl" style="left:464.0px;top:420.5px">09-2009</div>
<div class="t xl" style="left:493.2px;top:420.5px">02-2010</div>
<div class="t xl" style="left:522.5px;top:420.5px">07-2010</div>
<div class="t xl" style="left:551.7px;top:420.5px">12-2010</div>
<div class="t xl" style="left:580.9px;top:420.5px">05-2011</div>
<div class="t xl" style="left:610.2px;top:420.5px">10-2011</div>
<div class="t xl" style="left:639.4px;top:420.5px">03-2012</div>
<div class="t xl" style="left:668.7px;top:420.5px">08-2012</div>
<div class="t xl" style="left:697.9px;top:420.5px">01-2013</div>
<div class="t xl" style="left:727.1px;top:420.5px">06-2013</div>
<div class="t xl" style="left:756.4px;top:420.5px">11-2013</div>
<div class="t xl" style="left:785.6px;top:420.5px">04-2014</div>
<div class="t xl" style="left:814.9px;top:420.5px">09-2014</div>
<div class="t xl" style="left:844.1px;top:420.5px">02-2015</div>
<div class="t xl" style="left:873.3px;top:420.5px">07-2015</div>
<div class="t xl" style="left:902.6px;top:420.5px">12-2015</div>
<div class="t xl" style="left:931.8px;top:420.5px">05-2016</div>
<div class="t xl" style="left:961.1px;top:420.5px">10-2016</div>
<div class="t xl" style="left:990.3px;top:420.5px">03-2017</div>
<div class="t xl" style="left:1019.5px;top:420.5px">08-2017</div>
<div class="t lg" style="left:257.3px;top:510.3px;letter-spacing:0.00px">Crédits</div>
<div class="t lg" style="left:311.1px;top:510.3px;letter-spacing:0.00px">à</div>
<div class="t lg" style="left:323.8px;top:510.3px;letter-spacing:0.00px">la</div>
<div class="t lg" style="left:340.1px;top:510.3px;letter-spacing:0.25px">consommation</div>
<div class="t lg" style="left:506.4px;top:510.3px;letter-spacing:0.00px">Crédits</div>
<div class="t lg" style="left:560.5px;top:510.3px;letter-spacing:0.25px">immobiliers</div>
<div class="t lg" style="left:646.3px;top:510.3px;letter-spacing:0.20px">taux</div>
<div class="t lg" style="left:678.7px;top:510.3px;letter-spacing:0.10px">variable</div>
<div class="t lg" style="left:792.5px;top:510.3px;letter-spacing:0.00px">Crédits</div>
<div class="t lg" style="left:846.6px;top:510.3px;letter-spacing:0.25px">immobiliers</div>
<div class="t lg" style="left:932.3px;top:510.3px;letter-spacing:0.20px">taux</div>
<div class="t lg" style="left:965.3px;top:510.3px;letter-spacing:0.00px">fixe</div>
</body></html>
